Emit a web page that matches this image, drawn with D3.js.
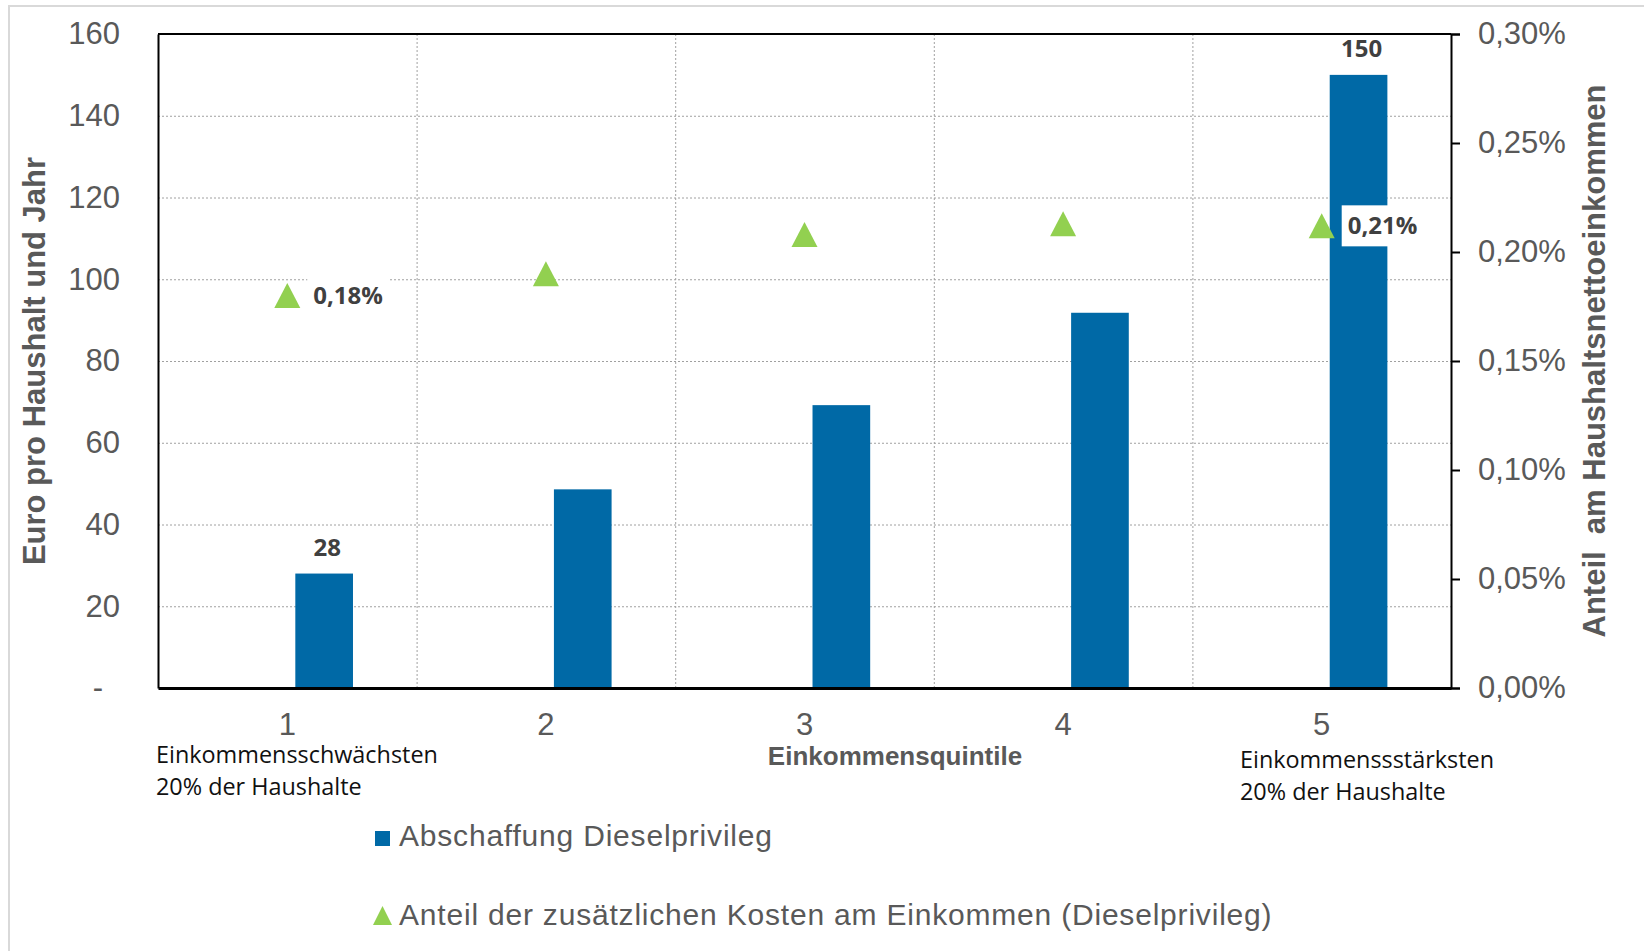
<!DOCTYPE html>
<html>
<head>
<meta charset="utf-8">
<script src="https://cdn.jsdelivr.net/npm/d3@7"></script>
<style>
  html, body { margin: 0; padding: 0; background: #fff; }
  svg { display: block; }
</style>
</head>
<body>
<div id="chart"></div>
<script>
// data
const categories = ["1", "2", "3", "4", "5"];
const costEuro = [28, 48.6, 69.2, 91.8, 150];                 // Euro pro Haushalt und Jahr
const shareIncome = [0.0018, 0.0019, 0.00208, 0.00213, 0.00212]; // Anteil am Haushaltsnettoeinkommen
const leftTicks = [0, 20, 40, 60, 80, 100, 120, 140, 160];
const rightTicks = [0, 0.0005, 0.001, 0.0015, 0.002, 0.0025, 0.003];
const barLabelIdx = [0, 4];
const shareLabelIdx = [0, 4];

const seriesBar = "Abschaffung Dieselprivileg";
const seriesShare = "Anteil der zusätzlichen Kosten am Einkommen (Dieselprivileg)";

const W = 1644, H = 951;
const margin = {top: 34, right: 193, bottom: 263, left: 158};
const plotR = W - margin.right, plotB = H - margin.bottom;

const blue = "#0069a6", green = "#92d050", grey = "#595959";
const arial = "'Liberation Sans', Arial, sans-serif";
const calibri = "'Open Sans', 'Noto Sans', sans-serif";

const svg = d3.select("#chart").append("svg")
  .attr("width", W)
  .attr("height", H);

// outer frame (only top and left edges visible)
svg.append("path")
  .attr("d", `M9,${H}V6H${W}`)
  .attr("fill", "none")
  .attr("stroke", "#d9d9d9")
  .attr("stroke-width", 2);

// scales
let x = d3.scaleBand().domain(categories).range([margin.left, plotR]).padding(0);
let y = d3.scaleLinear().domain([0, 160]).range([plotB, margin.top]);
let y2 = d3.scaleLinear().domain([0, 0.003]).range([plotB, margin.top]);

// gridlines
let grid = svg.append("g").attr("stroke", "#a0a0a0").attr("stroke-width", 1).attr("stroke-dasharray", "2,2");
grid.selectAll("line.h")
  .data(leftTicks.slice(1, -1))
  .enter().append("line")
  .attr("x1", margin.left).attr("x2", plotR)
  .attr("y1", d => y(d) + 0.5).attr("y2", d => y(d) + 0.5);
grid.selectAll("line.v")
  .data(categories.slice(1))
  .enter().append("line")
  .attr("x1", d => x(d) + 0.5).attr("x2", d => x(d) + 0.5)
  .attr("y1", margin.top).attr("y2", plotB);

// bars (sit right of the category centre, like a two-slot cluster)
svg.selectAll("rect.bar")
  .data(costEuro)
  .enter().append("rect")
  .attr("class", "bar")
  .attr("x", (d, i) => x(categories[i]) + x.bandwidth() * 0.531)
  .attr("width", x.bandwidth() * 0.223)
  .attr("y", d => y(d))
  .attr("height", d => plotB - y(d))
  .attr("fill", blue);

// frame of plot area
svg.append("line").attr("x1", margin.left).attr("x2", plotR)
  .attr("y1", margin.top).attr("y2", margin.top)
  .attr("stroke", "#000").attr("stroke-width", 2);

// left axis
let yAxis = svg.append("g")
  .attr("transform", `translate(${margin.left},0)`)
  .call(d3.axisLeft(y).tickValues(leftTicks).tickSize(0).tickPadding(38)
    .tickFormat(d => d === 0 ? "-" : d));
yAxis.select(".domain").attr("stroke", "#000").attr("stroke-width", 2);
yAxis.selectAll("text")
  .attr("font-family", arial).attr("font-size", 31).attr("fill", grey)
  .attr("x", d => d === 0 ? -55 : -38);

// right axis
let fmtPct = d => (d * 100).toFixed(2).replace(".", ",") + "%";
let y2Axis = svg.append("g")
  .attr("transform", `translate(${plotR},0)`)
  .call(d3.axisRight(y2).tickValues(rightTicks).tickSize(9).tickPadding(18).tickFormat(fmtPct));
y2Axis.select(".domain").attr("stroke", "#000").attr("stroke-width", 2);
y2Axis.selectAll(".tick line").attr("stroke", "#000").attr("stroke-width", 2);
y2Axis.selectAll("text")
  .attr("font-family", arial).attr("font-size", 31).attr("fill", grey);

// bottom axis
let xAxis = svg.append("g")
  .attr("transform", `translate(0,${plotB})`)
  .call(d3.axisBottom(x).tickSize(0).tickPadding(25));
xAxis.select(".domain").attr("stroke", "#000").attr("stroke-width", 3);
xAxis.selectAll("text")
  .attr("font-family", arial).attr("font-size", 31).attr("fill", grey);

// triangles (share of income)
let tri = (cx, cy) => `M${cx},${cy - 12.5}L${cx + 13},${cy + 12.5}L${cx - 13},${cy + 12.5}Z`;
svg.selectAll("path.tri")
  .data(shareIncome)
  .enter().append("path")
  .attr("class", "tri")
  .attr("d", (d, i) => tri(x(categories[i]) + x.bandwidth() / 2, y2(d)))
  .attr("fill", green);

// share labels with white box
shareLabelIdx.forEach(i => {
  let cx = x(categories[i]) + x.bandwidth() / 2, cy = y2(shareIncome[i]);
  svg.append("rect")
    .attr("x", cx + 20).attr("y", cy - 20.5)
    .attr("width", 81).attr("height", 41)
    .attr("fill", "#fff");
  svg.append("text")
    .attr("x", cx + 26).attr("y", cy).attr("dy", "0.36em")
    .attr("font-family", calibri).attr("font-weight", "bold").attr("font-size", 24)
    .attr("fill", "#404040")
    .text((shareIncome[i] * 100).toFixed(2).replace(".", ",") + "%");
});

// bar value labels
barLabelIdx.forEach(i => {
  let bx = x(categories[i]) + x.bandwidth() * (0.531 + 0.223 / 2) + 3;
  svg.append("text")
    .attr("x", bx).attr("y", y(costEuro[i]) - 18)
    .attr("text-anchor", "middle")
    .attr("font-family", calibri).attr("font-weight", "bold").attr("font-size", 24)
    .attr("fill", "#404040")
    .text(d3.format("d")(costEuro[i]));
});

// axis titles
svg.append("text")
  .attr("transform", `translate(45,${(margin.top + plotB) / 2}) rotate(-90)`)
  .attr("text-anchor", "middle")
  .attr("font-family", arial).attr("font-weight", "bold").attr("font-size", 31)
  .attr("fill", grey)
  .text("Euro pro Haushalt und Jahr");

svg.append("text")
  .attr("transform", `translate(1605,${(margin.top + plotB) / 2}) rotate(-90)`)
  .attr("text-anchor", "middle")
  .attr("font-family", arial).attr("font-weight", "bold").attr("font-size", 31)
  .attr("fill", grey)
  .style("white-space", "pre")
  .text("Anteil  am Haushaltsnettoeinkommen");

svg.append("text")
  .attr("x", 895).attr("y", 765)
  .attr("text-anchor", "middle")
  .attr("font-family", arial).attr("font-weight", "bold").attr("font-size", 26)
  .attr("fill", grey)
  .text("Einkommensquintile");

// notes under quintile 1 and 5
let notes = [
  {x: 156, y: 763, lines: ["Einkommensschwächsten", "20% der Haushalte"]},
  {x: 1240, y: 768, lines: ["Einkommenssstärksten", "20% der Haushalte"]}
];
notes.forEach(n => {
  let t = svg.append("text")
    .attr("font-family", calibri).attr("font-size", 23.4).attr("fill", "#111");
  n.lines.forEach((l, k) => {
    t.append("tspan").attr("x", n.x).attr("y", n.y + k * 32).text(l);
  });
});

// legend
let leg = svg.append("g")
  .attr("font-family", arial).attr("font-size", 30).attr("fill", grey)
  .attr("letter-spacing", 0.8);
leg.append("rect").attr("x", 375).attr("y", 831).attr("width", 15).attr("height", 15).attr("fill", blue);
leg.append("text").attr("x", 399).attr("y", 846).text(seriesBar);
leg.append("path").attr("d", "M382.5,906L392,925L373,925Z").attr("fill", green);
leg.append("text").attr("x", 399).attr("y", 925).text(seriesShare);
</script>
</body>
</html>
